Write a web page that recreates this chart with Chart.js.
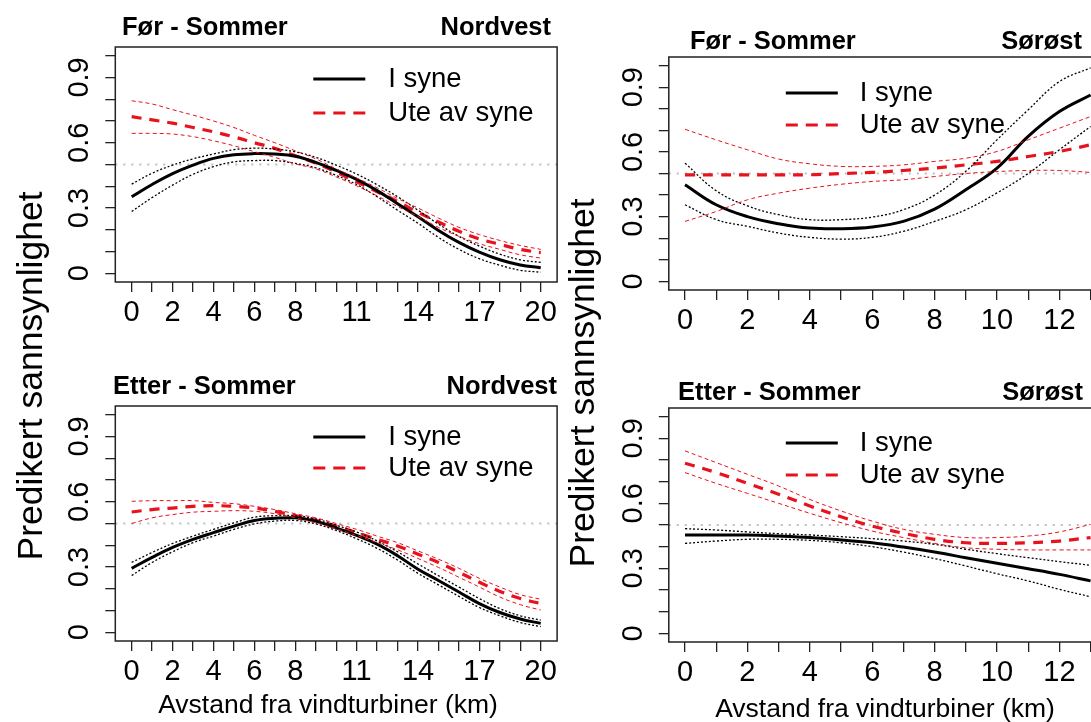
<!DOCTYPE html>
<html>
<head>
<meta charset="utf-8">
<script src="https://cdn.jsdelivr.net/npm/chart.js@4.4.1/dist/chart.umd.min.js"></script>
<style>
  html, body { margin: 0; background: #fff; overflow: hidden; width: 1091px; height: 722px; }
  canvas { position: absolute; left: 0; top: 0; }
</style>
</head>
<body>
<canvas id="tl" width="1140" height="722"></canvas>
<canvas id="tr" width="1140" height="722"></canvas>
<canvas id="bl" width="1140" height="722"></canvas>
<canvas id="br" width="1140" height="722"></canvas>
<script>
// x values (km)
const xNordvest = [0,1,2,3,4,5,6,7,8,9,10,11,12,13,14,15,16,17,18,19,20];
const xSorost = [0,1,2,3,4,5,6,7,8,9,10,11,12,13];

// tick labels
const xLabelsNordvest = [0,2,4,6,8,11,14,17,20];
const xLabelsSorost = [0,2,4,6,8,10,12];
const yTickValues = [0,0.1,0.2,0.3,0.4,0.5,0.6,0.7,0.8,0.9,1];
const yTickLabels = [0,0.3,0.6,0.9];
const refLine = 0.5;

// Før - Sommer, Nordvest
const forNwSyne   = [0.352,0.408,0.458,0.497,0.528,0.545,0.55,0.548,0.538,0.51,0.473,0.432,0.38,0.32,0.26,0.197,0.142,0.097,0.062,0.038,0.026];
const forNwSyneHi = [0.41,0.46,0.497,0.526,0.548,0.568,0.575,0.571,0.558,0.533,0.497,0.456,0.407,0.352,0.29,0.226,0.17,0.125,0.088,0.062,0.05];
const forNwSyneLo = [0.284,0.348,0.405,0.455,0.49,0.512,0.518,0.518,0.505,0.485,0.45,0.408,0.352,0.29,0.23,0.165,0.11,0.067,0.037,0.014,0.005];
const forNwUte     = [0.72,0.705,0.69,0.67,0.65,0.627,0.60,0.574,0.54,0.506,0.465,0.42,0.375,0.33,0.28,0.236,0.193,0.158,0.133,0.11,0.095];
const forNwUteHi   = [0.793,0.778,0.752,0.727,0.70,0.67,0.634,0.60,0.563,0.526,0.48,0.438,0.393,0.344,0.30,0.254,0.211,0.178,0.151,0.128,0.11];
const forNwUteLo   = [0.643,0.643,0.64,0.628,0.609,0.586,0.559,0.533,0.503,0.48,0.443,0.402,0.356,0.307,0.261,0.211,0.17,0.136,0.11,0.085,0.07];

// Før - Sommer, Sørøst
const forSeSyne   = [0.448,0.355,0.30,0.267,0.247,0.244,0.252,0.278,0.335,0.425,0.525,0.672,0.787,0.864];
const forSeSyneHi = [0.548,0.42,0.35,0.309,0.286,0.286,0.298,0.332,0.40,0.51,0.656,0.795,0.926,0.99];
const forSeSyneLo = [0.355,0.286,0.255,0.224,0.204,0.196,0.204,0.232,0.278,0.332,0.41,0.50,0.61,0.718];
const forSeUte    = [0.494,0.494,0.494,0.494,0.494,0.50,0.505,0.514,0.525,0.54,0.556,0.579,0.602,0.633];
const forSeUteHi  = [0.705,0.656,0.61,0.567,0.545,0.533,0.533,0.54,0.556,0.571,0.602,0.656,0.71,0.764];
const forSeUteLo  = [0.278,0.324,0.378,0.409,0.432,0.45,0.463,0.471,0.486,0.50,0.509,0.514,0.514,0.505];

// Etter - Sommer, Nordvest
const etterNwSyne   = [0.294,0.344,0.39,0.427,0.458,0.488,0.514,0.524,0.526,0.511,0.48,0.445,0.405,0.352,0.29,0.238,0.185,0.132,0.091,0.061,0.041];
const etterNwSyneHi = [0.321,0.367,0.408,0.442,0.473,0.503,0.529,0.536,0.536,0.521,0.492,0.461,0.42,0.37,0.314,0.26,0.208,0.155,0.109,0.076,0.056];
const etterNwSyneLo = [0.261,0.321,0.37,0.412,0.442,0.473,0.498,0.511,0.514,0.498,0.468,0.43,0.386,0.332,0.271,0.218,0.165,0.114,0.076,0.045,0.026];
const etterNwUte    = [0.553,0.564,0.571,0.579,0.582,0.579,0.571,0.556,0.536,0.515,0.488,0.458,0.427,0.397,0.359,0.321,0.276,0.23,0.188,0.155,0.132];
const etterNwUteHi  = [0.602,0.605,0.605,0.605,0.597,0.591,0.579,0.564,0.545,0.526,0.50,0.473,0.442,0.412,0.374,0.336,0.294,0.248,0.208,0.173,0.152];
const etterNwUteLo  = [0.50,0.526,0.541,0.552,0.556,0.559,0.556,0.545,0.526,0.503,0.476,0.445,0.412,0.379,0.339,0.298,0.253,0.208,0.162,0.127,0.102];

// Etter - Sommer, Sørøst
const etterSeSyne   = [0.454,0.454,0.454,0.449,0.442,0.431,0.418,0.398,0.375,0.349,0.323,0.298,0.272,0.242];
const etterSeSyneHi = [0.483,0.477,0.468,0.46,0.454,0.446,0.437,0.426,0.411,0.388,0.368,0.349,0.331,0.314];
const etterSeSyneLo = [0.415,0.426,0.434,0.434,0.429,0.418,0.40,0.375,0.345,0.311,0.275,0.242,0.203,0.169];
const etterSeUte    = [0.785,0.742,0.692,0.642,0.588,0.538,0.495,0.462,0.434,0.418,0.415,0.418,0.426,0.442];
const etterSeUteHi  = [0.842,0.788,0.734,0.68,0.618,0.565,0.518,0.48,0.457,0.442,0.442,0.449,0.468,0.503];
const etterSeUteLo  = [0.742,0.692,0.646,0.60,0.554,0.511,0.472,0.442,0.415,0.395,0.388,0.385,0.385,0.385];

const FONT = "Arial, 'Liberation Sans', sans-serif";
const RED = '#e8121c';
const W = 1140, H = 722;

function series(xs, ys, color, width, dash) {
  return {
    data: xs.map((x, i) => ({ x: x, y: ys[i] })),
    borderColor: color, borderWidth: width, borderDash: dash,
    pointRadius: 0, tension: 0.4, fill: false
  };
}

function makePanel(id, p) {
  const xMax = p.x[p.x.length - 1];
  const decorations = {
    id: 'decor' + id,
    beforeDatasetsDraw(chart) {
      const ctx = chart.ctx, a = chart.chartArea, ys = chart.scales.y;
      const yy = ys.getPixelForValue(refLine);
      ctx.save();
      ctx.strokeStyle = '#bdbdbd';
      ctx.lineWidth = 2;
      ctx.setLineDash([2, 6]);
      ctx.beginPath(); ctx.moveTo(a.left, yy); ctx.lineTo(a.right, yy); ctx.stroke();
      ctx.restore();
    },
    afterDraw(chart) {
      const ctx = chart.ctx, a = chart.chartArea, ys = chart.scales.y;
      ctx.save();
      // box
      ctx.strokeStyle = '#222';
      ctx.lineWidth = 1.5;
      ctx.strokeRect(a.left, a.top, a.right - a.left, a.bottom - a.top);
      // rotated y tick labels
      ctx.fillStyle = '#000';
      ctx.font = '29px ' + FONT;
      ctx.textAlign = 'center';
      ctx.textBaseline = 'middle';
      yTickLabels.forEach(v => {
        ctx.save();
        ctx.translate(a.left - 35, ys.getPixelForValue(v));
        ctx.rotate(-Math.PI / 2);
        ctx.fillText(String(v), 0, 0);
        ctx.restore();
      });
      // titles
      ctx.font = 'bold 25.5px ' + FONT;
      ctx.textAlign = 'left';
      ctx.fillText(p.title, p.titleX, p.titleY);
      ctx.textAlign = 'right';
      ctx.fillText(p.region, p.regionX, p.titleY);
      // legend
      const lx = a.left + p.leg.dx;
      const items = [
        { label: 'I syne', color: '#000', dash: [], y: a.top + p.leg.y1 },
        { label: 'Ute av syne', color: RED, dash: [12, 8], y: a.top + p.leg.y2 }
      ];
      items.forEach(it => {
        ctx.strokeStyle = it.color;
        ctx.lineWidth = 3;
        ctx.setLineDash(it.dash);
        ctx.beginPath(); ctx.moveTo(lx, it.y); ctx.lineTo(lx + 52, it.y); ctx.stroke();
        ctx.setLineDash([]);
        ctx.fillStyle = '#000';
        ctx.font = '27.5px ' + FONT;
        ctx.textAlign = 'left';
        ctx.fillText(it.label, a.left + p.leg.tx, it.y);
      });
      // axis titles
      if (p.yTitle) {
        ctx.font = '35.5px ' + FONT;
        ctx.textAlign = 'center';
        ctx.save();
        ctx.translate(p.yTitle.x, p.yTitle.y);
        ctx.rotate(-Math.PI / 2);
        ctx.fillText('Predikert sannsynlighet', 0, 0);
        ctx.restore();
      }
      if (p.xTitle) {
        ctx.font = '26.5px ' + FONT;
        ctx.textAlign = 'center';
        ctx.fillText('Avstand fra vindturbiner (km)', p.xTitle.x, p.xTitle.y);
      }
      ctx.restore();
    }
  };

  new Chart(document.getElementById(id), {
    type: 'line',
    data: {
      datasets: [
        series(p.x, p.uteHi, RED, 1, [4, 3]),
        series(p.x, p.uteLo, RED, 1, [4, 3]),
        series(p.x, p.syneHi, '#000', 1.3, [2, 2]),
        series(p.x, p.syneLo, '#000', 1.3, [2, 2]),
        series(p.x, p.syne, '#000', 3, []),
        series(p.x, p.ute, RED, 3.2, [10, 8])
      ]
    },
    options: {
      responsive: false,
      animation: false,
      events: [],
      layout: { padding: { left: p.box.l - 40, top: p.box.t, right: W - p.box.r, bottom: H - p.box.b - 50 } },
      plugins: { legend: { display: false }, tooltip: { enabled: false } },
      scales: {
        x: {
          type: 'linear',
          min: -0.04 * xMax, max: 1.04 * xMax,
          afterBuildTicks: s => { s.ticks = p.x.map(v => ({ value: v })); },
          afterFit: s => { s.height = 50; },
          ticks: {
            autoSkip: false, maxRotation: 0, minRotation: 0, padding: 4,
            color: '#000', font: { size: 29, family: FONT },
            callback: v => p.xLabels.includes(v) ? String(v) : ''
          },
          grid: { drawOnChartArea: false, drawTicks: true, tickLength: 10, color: '#222', lineWidth: 1.3 },
          border: { display: false }
        },
        y: {
          type: 'linear',
          min: -0.04, max: 1.04,
          afterBuildTicks: s => { s.ticks = yTickValues.map(v => ({ value: v })); },
          afterFit: s => { s.width = 40; },
          ticks: { display: false },
          grid: { drawOnChartArea: false, drawTicks: true, tickLength: 10, color: '#222', lineWidth: 1.3 },
          border: { display: false }
        }
      }
    },
    plugins: [decorations]
  });
}

makePanel('tl', {
  x: xNordvest, xLabels: xLabelsNordvest,
  syne: forNwSyne, syneHi: forNwSyneHi, syneLo: forNwSyneLo,
  ute: forNwUte, uteHi: forNwUteHi, uteLo: forNwUteLo,
  box: { l: 115.3, r: 557.1, t: 47, b: 282 },
  title: 'Før - Sommer', titleX: 122, region: 'Nordvest', regionX: 551, titleY: 28,
  leg: { dx: 198, y1: 32, y2: 66, tx: 273 },
  yTitle: { x: 32, y: 376 }
});
makePanel('tr', {
  x: xSorost, xLabels: xLabelsSorost,
  syne: forSeSyne, syneHi: forSeSyneHi, syneLo: forSeSyneLo,
  ute: forSeUte, uteHi: forSeUteHi, uteLo: forSeUteLo,
  box: { l: 668.8, r: 1106.8, t: 57, b: 290 },
  title: 'Før - Sommer', titleX: 690, region: 'Sørøst', regionX: 1082, titleY: 42,
  leg: { dx: 117, y1: 36, y2: 68, tx: 191 },
  yTitle: { x: 584, y: 383 }
});
makePanel('bl', {
  x: xNordvest, xLabels: xLabelsNordvest,
  syne: etterNwSyne, syneHi: etterNwSyneHi, syneLo: etterNwSyneLo,
  ute: etterNwUte, uteHi: etterNwUteHi, uteLo: etterNwUteLo,
  box: { l: 115.3, r: 557.1, t: 406, b: 641 },
  title: 'Etter - Sommer', titleX: 113, region: 'Nordvest', regionX: 557, titleY: 387,
  leg: { dx: 198, y1: 31, y2: 62, tx: 273 },
  xTitle: { x: 328, y: 706 }
});
makePanel('br', {
  x: xSorost, xLabels: xLabelsSorost,
  syne: etterSeSyne, syneHi: etterSeSyneHi, syneLo: etterSeSyneLo,
  ute: etterSeUte, uteHi: etterSeUteHi, uteLo: etterSeUteLo,
  box: { l: 668.8, r: 1106.8, t: 408, b: 642 },
  title: 'Etter - Sommer', titleX: 678, region: 'Sørøst', regionX: 1083, titleY: 393,
  leg: { dx: 117, y1: 35, y2: 67, tx: 191 },
  xTitle: { x: 885, y: 710 }
});
</script>
</body>
</html>
